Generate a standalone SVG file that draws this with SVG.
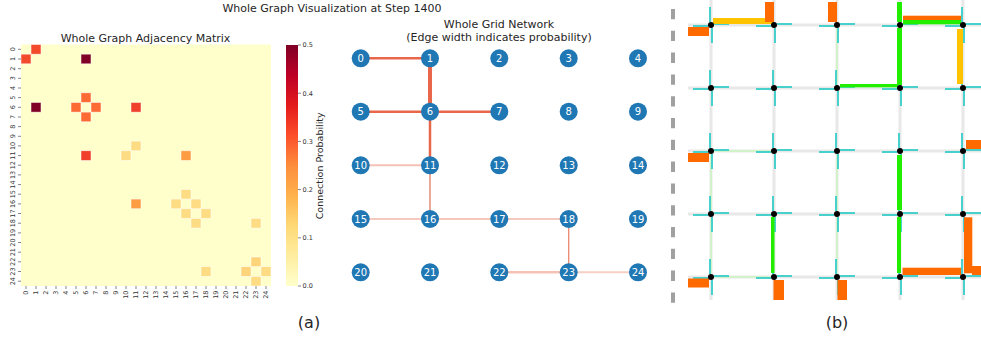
<svg xmlns="http://www.w3.org/2000/svg" width="981" height="339" viewBox="0 0 981 339">
<style>
text{font-family:"DejaVu Sans","Liberation Sans",sans-serif;fill:#262626}
.t11{font-size:11px}
.tk{font-size:6.5px;fill:#333}
.cell{stroke:#ffffff;stroke-width:0.7;stroke-opacity:0.7}
.lo{fill:#fedc84}
.or{fill:#fd6b35}
.rd{fill:#f03f2a}
.dk{fill:#800026}
.md{fill:#fd9d43}
.tm{stroke:#333;stroke-width:0.6}
.node circle{fill:#1f77b4}
.node text{fill:#fff;font-size:10px;text-anchor:middle}
.gl{stroke:#e8e8e8;stroke-width:3}
.cy{stroke:#48d1cc;stroke-width:2}
.og{fill:#ff6a00}
.gd{fill:#ffc300}
.gr{fill:#22ee00}
.fg{stroke:#d2f2c8;stroke-width:2}
</style>
<defs>
<linearGradient id="ylorrd" x1="0" y1="1" x2="0" y2="0">
<stop offset="0" stop-color="#ffffcc"/>
<stop offset="0.125" stop-color="#ffeda0"/>
<stop offset="0.25" stop-color="#fed976"/>
<stop offset="0.375" stop-color="#feb24c"/>
<stop offset="0.5" stop-color="#fd8d3c"/>
<stop offset="0.625" stop-color="#fc4e2a"/>
<stop offset="0.75" stop-color="#e31a1c"/>
<stop offset="0.875" stop-color="#bd0026"/>
<stop offset="1" stop-color="#800026"/>
</linearGradient>
</defs>
<rect width="981" height="339" fill="#ffffff"/>
<text class="t11" x="332" y="11.5" text-anchor="middle">Whole Graph Visualization at Step 1400</text>

<g id="heatmap">
<text class="t11" x="145.5" y="41.5" text-anchor="middle">Whole Graph Adjacency Matrix</text>
<rect x="21" y="44.5" width="250" height="241.5" fill="#ffffcc"/>
<rect class="cell rd" x="31" y="44.5" width="10" height="9.66" style="fill:#f34a2c"/>
<rect class="cell rd" x="21" y="54.16" width="10" height="9.66" style="fill:#f34a2c"/>
<rect class="cell dk" x="81" y="54.16" width="10" height="9.66"/>
<rect class="cell or" x="81" y="92.8" width="10" height="9.66"/>
<rect class="cell dk" x="31" y="102.46" width="10" height="9.66"/>
<rect class="cell or" x="71" y="102.46" width="10" height="9.66"/>
<rect class="cell or" x="91" y="102.46" width="10" height="9.66"/>
<rect class="cell rd" x="131" y="102.46" width="10" height="9.66"/>
<rect class="cell or" x="81" y="112.12" width="10" height="9.66"/>
<rect class="cell lo" x="131" y="141.1" width="10" height="9.66"/>
<rect class="cell rd" x="81" y="150.76" width="10" height="9.66"/>
<rect class="cell lo" x="121" y="150.76" width="10" height="9.66"/>
<rect class="cell md" x="181" y="150.76" width="10" height="9.66"/>
<rect class="cell lo" x="181" y="189.4" width="10" height="9.66"/>
<rect class="cell md" x="131" y="199.06" width="10" height="9.66"/>
<rect class="cell lo" x="171" y="199.06" width="10" height="9.66"/>
<rect class="cell lo" x="191" y="199.06" width="10" height="9.66"/>
<rect class="cell lo" x="181" y="208.72" width="10" height="9.66"/>
<rect class="cell lo" x="201" y="208.72" width="10" height="9.66"/>
<rect class="cell lo" x="191" y="218.38" width="10" height="9.66"/>
<rect class="cell lo" x="251" y="218.38" width="10" height="9.66"/>
<rect class="cell lo" x="251" y="257.02" width="10" height="9.66" style="fill:#fdd47a"/>
<rect class="cell lo" x="201" y="266.68" width="10" height="9.66"/>
<rect class="cell lo" x="241" y="266.68" width="10" height="9.66" style="fill:#fdd47a"/>
<rect class="cell lo" x="261" y="266.68" width="10" height="9.66"/>
<rect class="cell lo" x="251" y="276.34" width="10" height="9.66"/>
<g class="ticks">
<path class="tm" d="M18 49.3H21M18 59H21M18 68.7H21M18 78.3H21M18 88H21M18 97.6H21M18 107.3H21M18 117H21M18 126.6H21M18 136.3H21M18 145.9H21M18 155.6H21M18 165.2H21M18 174.9H21M18 184.6H21M18 194.2H21M18 203.9H21M18 213.5H21M18 223.2H21M18 232.9H21M18 242.5H21M18 252.2H21M18 261.8H21M18 271.5H21M18 281.2H21"/>
<path class="tm" d="M26 286V289M36 286V289M46 286V289M56 286V289M66 286V289M76 286V289M86 286V289M96 286V289M106 286V289M116 286V289M126 286V289M136 286V289M146 286V289M156 286V289M166 286V289M176 286V289M186 286V289M196 286V289M206 286V289M216 286V289M226 286V289M236 286V289M246 286V289M256 286V289M266 286V289"/>
</g>
<g class="ylabels" text-anchor="middle">
<text class="tk" transform="translate(15.2 49.3) rotate(-90)">0</text>
<text class="tk" transform="translate(15.2 59) rotate(-90)">1</text>
<text class="tk" transform="translate(15.2 68.7) rotate(-90)">2</text>
<text class="tk" transform="translate(15.2 78.3) rotate(-90)">3</text>
<text class="tk" transform="translate(15.2 88) rotate(-90)">4</text>
<text class="tk" transform="translate(15.2 97.6) rotate(-90)">5</text>
<text class="tk" transform="translate(15.2 107.3) rotate(-90)">6</text>
<text class="tk" transform="translate(15.2 117) rotate(-90)">7</text>
<text class="tk" transform="translate(15.2 126.6) rotate(-90)">8</text>
<text class="tk" transform="translate(15.2 136.3) rotate(-90)">9</text>
<text class="tk" transform="translate(15.2 145.9) rotate(-90)">10</text>
<text class="tk" transform="translate(15.2 155.6) rotate(-90)">11</text>
<text class="tk" transform="translate(15.2 165.2) rotate(-90)">12</text>
<text class="tk" transform="translate(15.2 174.9) rotate(-90)">13</text>
<text class="tk" transform="translate(15.2 184.6) rotate(-90)">14</text>
<text class="tk" transform="translate(15.2 194.2) rotate(-90)">15</text>
<text class="tk" transform="translate(15.2 203.9) rotate(-90)">16</text>
<text class="tk" transform="translate(15.2 213.5) rotate(-90)">17</text>
<text class="tk" transform="translate(15.2 223.2) rotate(-90)">18</text>
<text class="tk" transform="translate(15.2 232.9) rotate(-90)">19</text>
<text class="tk" transform="translate(15.2 242.5) rotate(-90)">20</text>
<text class="tk" transform="translate(15.2 252.2) rotate(-90)">21</text>
<text class="tk" transform="translate(15.2 261.8) rotate(-90)">22</text>
<text class="tk" transform="translate(15.2 271.5) rotate(-90)">23</text>
<text class="tk" transform="translate(15.2 281.2) rotate(-90)">24</text>
</g>
<g class="xlabels" text-anchor="end">
<text class="tk" transform="translate(28.3 290.5) rotate(-90)">0</text>
<text class="tk" transform="translate(38.3 290.5) rotate(-90)">1</text>
<text class="tk" transform="translate(48.3 290.5) rotate(-90)">2</text>
<text class="tk" transform="translate(58.3 290.5) rotate(-90)">3</text>
<text class="tk" transform="translate(68.3 290.5) rotate(-90)">4</text>
<text class="tk" transform="translate(78.3 290.5) rotate(-90)">5</text>
<text class="tk" transform="translate(88.3 290.5) rotate(-90)">6</text>
<text class="tk" transform="translate(98.3 290.5) rotate(-90)">7</text>
<text class="tk" transform="translate(108.3 290.5) rotate(-90)">8</text>
<text class="tk" transform="translate(118.3 290.5) rotate(-90)">9</text>
<text class="tk" transform="translate(128.3 290.5) rotate(-90)">10</text>
<text class="tk" transform="translate(138.3 290.5) rotate(-90)">11</text>
<text class="tk" transform="translate(148.3 290.5) rotate(-90)">12</text>
<text class="tk" transform="translate(158.3 290.5) rotate(-90)">13</text>
<text class="tk" transform="translate(168.3 290.5) rotate(-90)">14</text>
<text class="tk" transform="translate(178.3 290.5) rotate(-90)">15</text>
<text class="tk" transform="translate(188.3 290.5) rotate(-90)">16</text>
<text class="tk" transform="translate(198.3 290.5) rotate(-90)">17</text>
<text class="tk" transform="translate(208.3 290.5) rotate(-90)">18</text>
<text class="tk" transform="translate(218.3 290.5) rotate(-90)">19</text>
<text class="tk" transform="translate(228.3 290.5) rotate(-90)">20</text>
<text class="tk" transform="translate(238.3 290.5) rotate(-90)">21</text>
<text class="tk" transform="translate(248.3 290.5) rotate(-90)">22</text>
<text class="tk" transform="translate(258.3 290.5) rotate(-90)">23</text>
<text class="tk" transform="translate(268.3 290.5) rotate(-90)">24</text>
</g>
</g>

<g id="colorbar">
<rect x="286" y="45" width="12" height="241" fill="url(#ylorrd)"/>
<path class="tm" d="M298 45H301M298 93.2H301M298 141.4H301M298 189.6H301M298 237.8H301M298 286H301"/>
<text class="tk" x="302.5" y="47.3">0.5</text>
<text class="tk" x="302.5" y="95.5">0.4</text>
<text class="tk" x="302.5" y="143.7">0.3</text>
<text class="tk" x="302.5" y="191.9">0.2</text>
<text class="tk" x="302.5" y="240.1">0.1</text>
<text class="tk" x="302.5" y="288.3">0.0</text>
<text transform="translate(323 165.8) rotate(-90)" text-anchor="middle" style="font-size:9.5px">Connection Probability</text>
</g>
<text x="309" y="328" text-anchor="middle" style="font-size:16px">(a)</text>

<text class="t11" x="499" y="28" text-anchor="middle">Whole Grid Network</text>
<text class="t11" x="499" y="41" text-anchor="middle">(Edge width indicates probability)</text>
<g id="connectors" fill="none">
<line x1="360.7" y1="58.3" x2="430" y2="58.3" stroke="#e8664a" stroke-width="2.5"/>
<line x1="430" y1="58.3" x2="430" y2="111.7" stroke="#e8664a" stroke-width="4"/>
<line x1="360.7" y1="111.7" x2="430" y2="111.7" stroke="#e8664a" stroke-width="2.5"/>
<line x1="430" y1="111.7" x2="499.3" y2="111.7" stroke="#e8664a" stroke-width="2.5"/>
<line x1="430" y1="111.7" x2="430" y2="165.3" stroke="#e8664a" stroke-width="2.5"/>
<line x1="360.7" y1="165.3" x2="430" y2="165.3" stroke="#f5c2b5" stroke-width="2"/>
<line x1="430" y1="165.3" x2="430" y2="219" stroke="#eda795" stroke-width="2"/>
<line x1="360.7" y1="219" x2="430" y2="219" stroke="#e99580" stroke-width="1.2"/>
<line x1="430" y1="219" x2="499.3" y2="219" stroke="#f2b5a5" stroke-width="1.5"/>
<line x1="499.3" y1="219" x2="568.7" y2="219" stroke="#e99580" stroke-width="1.2"/>
<line x1="568.7" y1="219" x2="568.7" y2="272.3" stroke="#ec8870" stroke-width="1.3"/>
<line x1="499.3" y1="272.3" x2="568.7" y2="272.3" stroke="#f5c2b5" stroke-width="2.5"/>
<line x1="568.7" y1="272.3" x2="638" y2="272.3" stroke="#f7cfc4" stroke-width="2"/>
</g>
<g id="n0" class="node"><circle cx="360.7" cy="58.3" r="9"/><text x="360.7" y="61.8">0</text></g>
<g id="n1" class="node"><circle cx="430" cy="58.3" r="9"/><text x="430" y="61.8">1</text></g>
<g id="n2" class="node"><circle cx="499.3" cy="58.3" r="9"/><text x="499.3" y="61.8">2</text></g>
<g id="n3" class="node"><circle cx="568.7" cy="58.3" r="9"/><text x="568.7" y="61.8">3</text></g>
<g id="n4" class="node"><circle cx="638" cy="58.3" r="9"/><text x="638" y="61.8">4</text></g>
<g id="n5" class="node"><circle cx="360.7" cy="111.7" r="9"/><text x="360.7" y="115.2">5</text></g>
<g id="n6" class="node"><circle cx="430" cy="111.7" r="9"/><text x="430" y="115.2">6</text></g>
<g id="n7" class="node"><circle cx="499.3" cy="111.7" r="9"/><text x="499.3" y="115.2">7</text></g>
<g id="n8" class="node"><circle cx="568.7" cy="111.7" r="9"/><text x="568.7" y="115.2">8</text></g>
<g id="n9" class="node"><circle cx="638" cy="111.7" r="9"/><text x="638" y="115.2">9</text></g>
<g id="n10" class="node"><circle cx="360.7" cy="165.3" r="9"/><text x="360.7" y="168.8">10</text></g>
<g id="n11" class="node"><circle cx="430" cy="165.3" r="9"/><text x="430" y="168.8">11</text></g>
<g id="n12" class="node"><circle cx="499.3" cy="165.3" r="9"/><text x="499.3" y="168.8">12</text></g>
<g id="n13" class="node"><circle cx="568.7" cy="165.3" r="9"/><text x="568.7" y="168.8">13</text></g>
<g id="n14" class="node"><circle cx="638" cy="165.3" r="9"/><text x="638" y="168.8">14</text></g>
<g id="n15" class="node"><circle cx="360.7" cy="219" r="9"/><text x="360.7" y="222.5">15</text></g>
<g id="n16" class="node"><circle cx="430" cy="219" r="9"/><text x="430" y="222.5">16</text></g>
<g id="n17" class="node"><circle cx="499.3" cy="219" r="9"/><text x="499.3" y="222.5">17</text></g>
<g id="n18" class="node"><circle cx="568.7" cy="219" r="9"/><text x="568.7" y="222.5">18</text></g>
<g id="n19" class="node"><circle cx="638" cy="219" r="9"/><text x="638" y="222.5">19</text></g>
<g id="n20" class="node"><circle cx="360.7" cy="272.3" r="9"/><text x="360.7" y="275.8">20</text></g>
<g id="n21" class="node"><circle cx="430" cy="272.3" r="9"/><text x="430" y="275.8">21</text></g>
<g id="n22" class="node"><circle cx="499.3" cy="272.3" r="9"/><text x="499.3" y="275.8">22</text></g>
<g id="n23" class="node"><circle cx="568.7" cy="272.3" r="9"/><text x="568.7" y="275.8">23</text></g>
<g id="n24" class="node"><circle cx="638" cy="272.3" r="9"/><text x="638" y="275.8">24</text></g>

<g id="panel-b">
<line x1="673" y1="9" x2="673" y2="303.5" stroke="#a0a0a0" stroke-width="4" stroke-dasharray="10.3 11.5"/>
<path class="gl" d="M688 25H981M688 88H981M688 151H981M688 214H981M688 277H981M711 0V300M774 0V300M837 0V300M900 0V300M963 0V300"/>
<path class="fg" d="M837 28V85M713 151H772M713 277H770M711 154V274M837 154V274"/>
<path class="cy" d="M693 26H708M714 24H729M756 26H771M777 24H792M819 26H834M840 24H855M882 26H897M903 24H918M945 26H960M966 24H981
M693 89H708M714 87H729M756 89H771M777 87H792M819 89H834M840 87H855M882 89H897M903 87H918M945 89H960M966 87H981
M693 152H708M714 150H729M756 152H771M777 150H792M819 152H834M840 150H855M882 152H897M903 150H918M945 152H960M966 150H981
M693 215H708M714 213H729M756 215H771M777 213H792M819 215H834M840 213H855M882 215H897M903 213H918M945 215H960M966 213H981
M693 278H708M714 276H729M756 278H771M777 276H792M819 278H834M840 276H855M882 278H897M903 276H918M945 278H960M966 276H981"/>
<path class="cy" d="M710 7V22M712 28V43M710 70V85M712 91V106M710 133V148M712 154V169M710 196V211M712 217V232M710 259V274M712 280V295
M773 7V22M775 28V43M773 70V85M775 91V106M773 133V148M775 154V169M773 196V211M775 217V232M773 259V274M775 280V295
M836 7V22M838 28V43M836 70V85M838 91V106M836 133V148M838 154V169M836 196V211M838 217V232M836 259V274M838 280V295
M899 7V22M901 28V43M899 70V85M901 91V106M899 133V148M901 154V169M899 196V211M901 217V232M899 259V274M901 280V295
M962 7V22M964 28V43M962 70V85M964 91V106M962 133V148M964 154V169M962 196V211M964 217V232M962 259V274M964 280V295"/>
<rect class="og" x="688" y="27" width="21" height="9"/>
<rect class="og" x="688" y="153" width="21" height="9"/>
<rect class="og" x="688" y="278.5" width="21" height="9"/>
<rect class="gd" x="713" y="18" width="60" height="6"/>
<rect class="og" x="765" y="2" width="9" height="20"/>
<rect class="og" x="828" y="2" width="9" height="20"/>
<rect class="gr" x="897" y="2" width="5" height="20"/>
<rect class="og" x="903" y="15.7" width="58" height="4.3"/>
<rect class="gr" x="903" y="20" width="58" height="4.3"/>
<rect class="gr" x="897" y="28" width="5" height="57"/>
<rect class="gr" x="840" y="84" width="58" height="3.3"/>
<rect class="gd" x="957" y="29" width="6" height="55"/>
<rect class="og" x="966" y="140" width="15" height="9"/>
<rect class="gr" x="897" y="155" width="5" height="55"/>
<rect class="gr" x="897" y="217" width="4" height="56"/>
<rect class="gr" x="771" y="217" width="3.5" height="56"/>
<rect class="og" x="773.5" y="280" width="10.5" height="20"/>
<rect class="og" x="837.5" y="280" width="9.5" height="20"/>
<rect class="og" x="902.5" y="267.7" width="58.5" height="7.3"/>
<rect class="og" x="964" y="217.3" width="8.3" height="56"/>
<rect class="og" x="972" y="266" width="9" height="9"/>
<g fill="#000">
<circle cx="711" cy="25" r="3"/><circle cx="774" cy="25" r="3"/><circle cx="837" cy="25" r="3"/><circle cx="900" cy="25" r="3"/><circle cx="963" cy="25" r="3"/>
<circle cx="711" cy="88" r="3"/><circle cx="774" cy="88" r="3"/><circle cx="837" cy="88" r="3"/><circle cx="900" cy="88" r="3"/><circle cx="963" cy="88" r="3"/>
<circle cx="711" cy="151" r="3"/><circle cx="774" cy="151" r="3"/><circle cx="837" cy="151" r="3"/><circle cx="900" cy="151" r="3"/><circle cx="963" cy="151" r="3"/>
<circle cx="711" cy="214" r="3"/><circle cx="774" cy="214" r="3"/><circle cx="837" cy="214" r="3"/><circle cx="900" cy="214" r="3"/><circle cx="963" cy="214" r="3"/>
<circle cx="711" cy="277" r="3"/><circle cx="774" cy="277" r="3"/><circle cx="837" cy="277" r="3"/><circle cx="900" cy="277" r="3"/><circle cx="963" cy="277" r="3"/>
</g>
</g>
<text x="837" y="328" text-anchor="middle" style="font-size:16px">(b)</text>
</svg>
